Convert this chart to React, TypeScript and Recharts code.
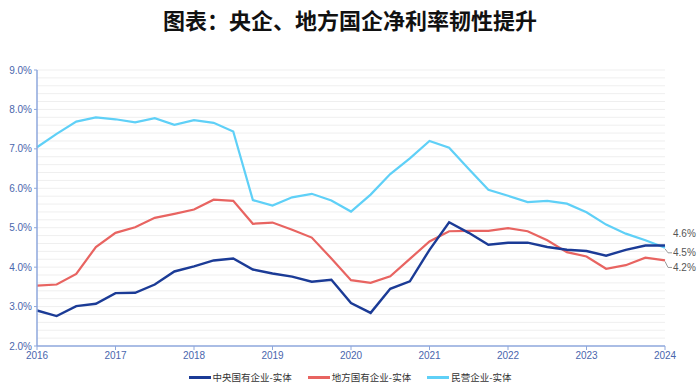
import React from "react";
import { LineChart, Line, XAxis, YAxis, ReferenceLine, Legend } from "recharts";

const quarters = [
  "2016Q1","2016Q2","2016Q3","2016Q4","2017Q1","2017Q2","2017Q3","2017Q4",
  "2018Q1","2018Q2","2018Q3","2018Q4","2019Q1","2019Q2","2019Q3","2019Q4",
  "2020Q1","2020Q2","2020Q3","2020Q4","2021Q1","2021Q2","2021Q3","2021Q4",
  "2022Q1","2022Q2","2022Q3","2022Q4","2023Q1","2023Q2","2023Q3","2023Q4",
  "2024Q1",
];

const centralSOE = [
  2.90, 2.76, 3.01, 3.07, 3.34, 3.35, 3.56, 3.89, 4.02, 4.17, 4.22, 3.94,
  3.84, 3.76, 3.63, 3.68, 3.09, 2.84, 3.45, 3.64, 4.44, 5.14, 4.87, 4.57,
  4.62, 4.62, 4.51, 4.44, 4.41, 4.29, 4.44, 4.55, 4.55,
];

const localSOE = [
  3.53, 3.56, 3.83, 4.51, 4.87, 5.01, 5.25, 5.35, 5.46, 5.71, 5.68, 5.10,
  5.13, 4.95, 4.75, 4.22, 3.67, 3.60, 3.77, 4.21, 4.65, 4.91, 4.92, 4.92,
  4.99, 4.91, 4.68, 4.38, 4.27, 3.96, 4.05, 4.24, 4.17,
];

const privateEnt = [
  7.04, 7.38, 7.69, 7.80, 7.75, 7.67, 7.78, 7.61, 7.73, 7.66, 7.44, 5.70,
  5.56, 5.77, 5.86, 5.69, 5.41, 5.84, 6.36, 6.76, 7.20, 7.03, 6.49, 5.96,
  5.81, 5.65, 5.68, 5.61, 5.39, 5.08, 4.85, 4.68, 4.49,
];

const seriesNames = ["中央国有企业-实体", "地方国有企业-实体", "民营企业-实体"];
const endLabels = ["4.6%", "4.5%", "4.2%"]; // central, private, local
const yTicks = [2, 3, 4, 5, 6, 7, 8, 9];
const xTickIndex = [0, 4, 8, 12, 16, 20, 24, 28, 32];
const xTickYears = ["2016", "2017", "2018", "2019", "2020", "2021", "2022", "2023", "2024"];
const gridValues = [
  2.2, 2.4, 2.6, 2.8, 3.0, 3.2, 3.4, 3.6, 3.8, 4.0, 4.2, 4.4, 4.6, 4.8, 5.0,
  5.2, 5.4, 5.6, 5.8, 6.0, 6.2, 6.4, 6.6, 6.8, 7.0, 7.2, 7.4, 7.6, 7.8, 8.0,
  8.2, 8.4, 8.6, 8.8, 9.0,
];

const COLORS = { central: "#1b3b96", local: "#e86461", private: "#5fd0f7" };

const data = quarters.map((q, i) => ({
  i,
  q,
  central: centralSOE[i],
  local: localSOE[i],
  private: privateEnt[i],
}));

const LAST = quarters.length - 1;

const makeEndLabel = (text: string, dy: number, connector: boolean) => (props: any) => {
  const { x, y, index } = props;
  if (index !== LAST) return null;
  const ty = y + dy;
  return (
    <g>
      {connector && (
        <polyline
          points={`${x},${y + 1} ${x + 3},${ty} ${x + 7},${ty}`}
          fill="none"
          stroke="#9a9a9a"
          strokeWidth={1}
        />
      )}
      <text
        x={x + 8}
        y={ty}
        dy={3.5}
        fontSize={10}
        fill="#555"
        fontFamily="Liberation Sans, Arial, sans-serif"
      >
        {text}
      </text>
    </g>
  );
};

const legendItems = [
  { name: seriesNames[0], color: COLORS.central },
  { name: seriesNames[1], color: COLORS.local },
  { name: seriesNames[2], color: COLORS.private },
];

const LegendContent = () => (
  <div style={{ display: "flex", justifyContent: "center", alignItems: "center" }}>
    {legendItems.map((it) => (
      <div key={it.name} style={{ display: "flex", alignItems: "center", margin: "0 8px" }}>
        <div style={{ width: 22, height: 3, background: it.color, marginRight: 2 }} />
        <span
          style={{
            fontSize: 9.5,
            color: "#333",
            fontFamily: "Noto Sans CJK SC, sans-serif",
            lineHeight: "12px",
          }}
        >
          {it.name}
        </span>
      </div>
    ))}
  </div>
);

const tickStyle = { fontSize: 10, fill: "#4a66ad", fontFamily: "Liberation Sans, Arial, sans-serif" };

export default function App() {
  return (
    <div style={{ position: "absolute", left: 0, top: 0, width: 700, height: 389, background: "#fff" }}>
      <div
        style={{
          position: "absolute",
          left: 0,
          top: 5,
          width: 700,
          textAlign: "center",
          fontSize: 22,
          fontWeight: 700,
          color: "#111",
          fontFamily: "Noto Sans CJK SC, sans-serif",
          lineHeight: "28px",
        }}
      >
        图表：央企、地方国企净利率韧性提升
      </div>
      <LineChart
        width={700}
        height={389}
        data={data}
        margin={{ top: 70, right: 35, left: 0, bottom: 23 }}
      >
        {gridValues.map((v) => (
          <ReferenceLine key={v} y={v} stroke="#efefef" strokeWidth={1} ifOverflow="visible" />
        ))}
        <XAxis
          dataKey="i"
          type="number"
          domain={[0, LAST]}
          ticks={xTickIndex}
          tickFormatter={(v: number) => xTickYears[xTickIndex.indexOf(v)]}
          axisLine={{ stroke: "#8ea7dc", strokeWidth: 1.5 }}
          tickLine={{ stroke: "#8ea7dc" }}
          tickSize={4}
          height={20}
          tick={tickStyle}
          interval={0}
        />
        <YAxis
          domain={[2, 9]}
          ticks={yTicks}
          tickFormatter={(v: number) => v.toFixed(1) + "%"}
          axisLine={{ stroke: "#8ea7dc", strokeWidth: 1.5 }}
          tickLine={{ stroke: "#8ea7dc" }}
          tickSize={3}
          width={37}
          tick={tickStyle}
          interval={0}
        />
        <Legend
          verticalAlign="middle"
          layout="horizontal"
          wrapperStyle={{ top: 371, left: 0, width: 700 }}
          content={<LegendContent />}
        />
        <Line
          dataKey="local"
          name={seriesNames[1]}
          stroke={COLORS.local}
          strokeWidth={2.2}
          dot={false}
          isAnimationActive={false}
          label={makeEndLabel(endLabels[2], 7, true)}
        />
        <Line
          dataKey="private"
          name={seriesNames[2]}
          stroke={COLORS.private}
          strokeWidth={2.2}
          dot={false}
          isAnimationActive={false}
          label={makeEndLabel(endLabels[1], 5, true)}
        />
        <Line
          dataKey="central"
          name={seriesNames[0]}
          stroke={COLORS.central}
          strokeWidth={2.4}
          dot={false}
          isAnimationActive={false}
          label={makeEndLabel(endLabels[0], -12, false)}
        />
      </LineChart>
    </div>
  );
}
